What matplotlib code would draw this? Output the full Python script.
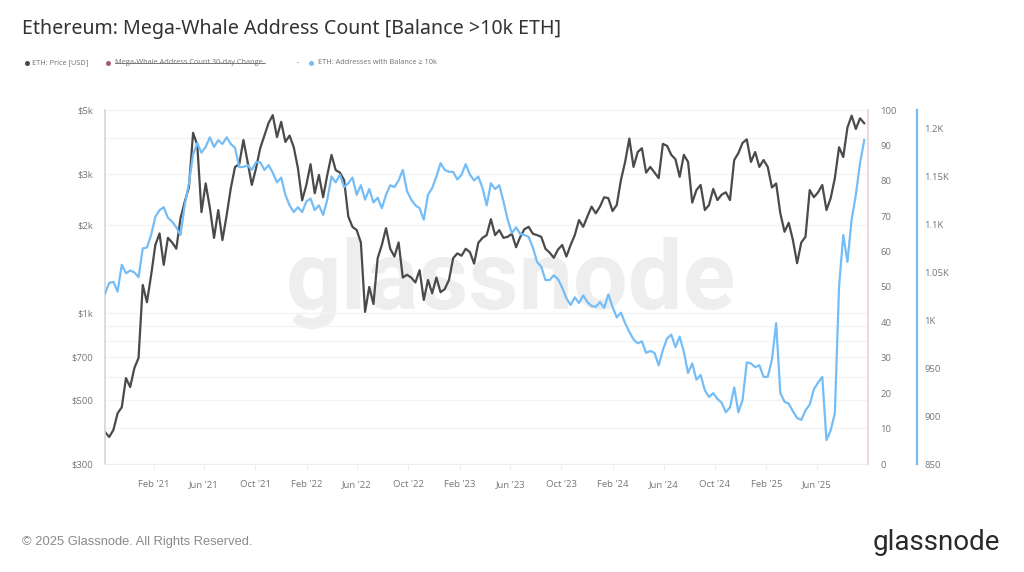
import matplotlib
matplotlib.use("Agg")
import matplotlib.pyplot as plt
import matplotlib.dates as mdates
from matplotlib.lines import Line2D
import pandas as pd

plt.rcParams['font.family'] = ['Open Sans', 'DejaVu Sans']

# values, one every 10 days
first_day = '2020-10-08'
price = [387, 372, 393, 449, 471, 594, 553, 643, 697, 1245,
         1085, 1347, 1710, 1875, 1460, 1810, 1745, 1660, 2115, 2410,
         2700, 4170, 3785, 2220, 2790, 2295, 1810, 2257, 1778, 2165,
         2690, 3180, 3250, 3940, 3310, 2755, 3145, 3690, 4080, 4510,
         4800, 4030, 4550, 3880, 4080, 3720, 3145, 2440, 2755, 3250,
         2580, 2985, 2500, 2985, 3500, 3100, 3040, 2865, 2145, 1975,
         1925, 1745, 1005, 1225, 1070, 1540, 1710, 1955, 1660, 1560,
         1745, 1320, 1350, 1320, 1270, 1400, 1105, 1295, 1165, 1320,
         1175, 1205, 1295, 1540, 1600, 1570, 1660, 1615, 1475, 1740,
         1810, 1850, 2100, 1850, 1925, 1810, 1825, 1870, 1680, 1825,
         1940, 1975, 1870, 1850, 1825, 1660, 1610, 1545, 1650, 1710,
         1560, 1710, 1850, 2085, 1975, 2145, 2320, 2200, 2320, 2500,
         2480, 2240, 2350, 2865, 3310, 3985, 3180, 3580, 3690, 3040,
         3180, 3040, 2910, 3820, 3760, 3500, 3380, 2940, 3500, 3310,
         2395, 2646, 2755, 2257, 2350, 2670, 2444, 2550, 2600, 2444,
         3360, 3550, 3850, 3960, 3310, 3580, 3180, 3360, 3180, 2700,
         2790, 2200, 1900, 2040, 1778, 1480, 1745, 1825, 2646, 2500,
         2600, 2755, 2257, 2480, 2910, 3720, 3440, 4350, 4780, 4300,
         4680, 4500]
addresses = [1028, 1039, 1040, 1030, 1058, 1049, 1052, 1050, 1045, 1075,
             1076, 1089, 1108, 1115, 1118, 1107, 1103, 1097, 1089, 1120,
             1143, 1173, 1185, 1175, 1181, 1191, 1181, 1188, 1184, 1191,
             1184, 1180, 1160, 1160, 1162, 1157, 1165, 1165, 1157, 1162,
             1154, 1144, 1149, 1131, 1120, 1113, 1118, 1113, 1124, 1127,
             1115, 1120, 1110, 1126, 1150, 1144, 1152, 1139, 1143, 1149,
             1131, 1141, 1126, 1137, 1123, 1128, 1117, 1131, 1141, 1139,
             1146, 1157, 1135, 1126, 1120, 1117, 1105, 1131, 1138, 1150,
             1164, 1157, 1155, 1155, 1147, 1152, 1163, 1152, 1146, 1150,
             1138, 1120, 1143, 1137, 1141, 1124, 1105, 1091, 1097, 1090,
             1089, 1087, 1076, 1061, 1056, 1042, 1042, 1047, 1043, 1034,
             1023, 1016, 1024, 1018, 1026, 1019, 1015, 1014, 1019, 1013,
             1027, 1014, 1003, 1008, 997, 988, 980, 976, 978, 966,
             968, 966, 953, 969, 981, 985, 972, 983, 967, 945,
             955, 938, 943, 927, 920, 924, 918, 914, 904, 909,
             930, 904, 917, 956, 955, 951, 953, 941, 941, 959,
             997, 924, 915, 913, 905, 898, 896, 906, 912, 928,
             935, 941, 875, 885, 903, 1035, 1089, 1061, 1105, 1131,
             1164, 1188]

date_ticks = ['2021-02-01', '2021-06-01', '2021-10-01', '2022-02-01', '2022-06-01',
              '2022-10-01', '2023-02-01', '2023-06-01', '2023-10-01', '2024-02-01',
              '2024-06-01', '2024-10-01', '2025-02-01', '2025-06-01']
price_ticks = [300, 500, 700, 1000, 2000, 3000, 5000]
price_labels = ['$300', '$500', '$700', '$1k', '$2k', '$3k', '$5k']
price_grid = [400, 600, 800, 900, 4000]
pct_ticks = [0, 10, 20, 30, 40, 50, 60, 70, 80, 90, 100]
addr_ticks = [850, 900, 950, 1000, 1050, 1100, 1150, 1200]
addr_labels = ['850', '900', '950', '1K', '1.05K', '1.1K', '1.15K', '1.2K']

DARK = '#4a4a4a'
BLUE = '#74bdf7'
TICK = '#777777'
GRID = '#f4f4f4'

dates = pd.date_range(first_day, periods=len(price), freq='10D')


def fx(x):
    return x / 1024


def fy(y):
    return 1 - y / 572


fig = plt.figure(figsize=(10.24, 5.72), dpi=100)
ax = fig.add_axes([fx(105), fy(464), fx(763), 354 / 572])

# price axis, log scale on the left
ax.set_yscale('log')
ax.set_ylim(300, 5000)
ax.set_xlim(pd.Timestamp('2020-10-08'), pd.Timestamp('2025-10-01'))
ax.set_yticks(price_ticks)
ax.set_yticklabels(price_labels)
ax.set_yticks(price_grid, minor=True)
ax.set_yticklabels([], minor=True)
ax.grid(True, axis='y', which='both', color=GRID, lw=1)
ax.set_axisbelow(True)
ax.set_xticks(pd.to_datetime(date_ticks))
ax.xaxis.set_major_formatter(mdates.DateFormatter("%b '%y"))
ax.tick_params(axis='y', which='both', length=0, pad=8.5, labelsize=6.8, labelcolor=TICK)
ax.tick_params(axis='x', length=4, color='#eeeeee', pad=7.5, labelsize=6.8, labelcolor=TICK)
for s in ['top', 'right']:
    ax.spines[s].set_visible(False)
ax.spines['left'].set_color('#d5d5d5')
ax.spines['left'].set_linewidth(1.2)
ax.spines['bottom'].set_color('#eeeeee')

ax.text(0.532, 0.51, 'glassnode', transform=ax.transAxes, ha='center', va='center',
        fontsize=70, color='#eeeeee', family='Roboto', weight='bold', zorder=0)
ax.plot(dates, price, color=DARK, lw=1.6, solid_joinstyle='round')

# percent axis, its series is switched off in the legend
ax_pct = ax.twinx()
ax_pct.set_ylim(0, 100)
ax_pct.set_yticks(pct_ticks)
ax_pct.tick_params(axis='y', length=0, pad=9, labelsize=6.8, labelcolor=TICK)
for s in ['top', 'left', 'bottom']:
    ax_pct.spines[s].set_visible(False)
ax_pct.spines['right'].set_color('#f0d8e0')
ax_pct.spines['right'].set_linewidth(1.5)

# address count axis
ax_addr = ax.twinx()
ax_addr.set_ylim(850, 1219.5)
ax_addr.set_yticks(addr_ticks)
ax_addr.set_yticklabels(addr_labels)
ax_addr.tick_params(axis='y', length=0, pad=5, labelsize=6.8, labelcolor=TICK)
for s in ['top', 'left', 'bottom']:
    ax_addr.spines[s].set_visible(False)
ax_addr.spines['right'].set_position(('outward', 35.5))
ax_addr.spines['right'].set_color(BLUE)
ax_addr.spines['right'].set_linewidth(1.6)
ax_addr.plot(dates, addresses, color=BLUE, lw=1.6, solid_joinstyle='round')

# title and legend row
fig.text(fx(22), fy(29), 'Ethereum: Mega-Whale Address Count [Balance >10k ETH]',
         fontsize=14.15, color='#333333', family='Noto Sans', va='center')

legend_dots = [(27, DARK), (108, '#a8587c'), (311, BLUE)]
legend_texts = [(32, 'ETH: Price [USD]'), (115, 'Mega-Whale Address Count 30-day Change'),
                (297, '-'), (318, 'ETH: Addresses with Balance ≥ 10k')]
for x, c in legend_dots:
    fig.add_artist(Line2D([fx(x)], [fy(62.5)], marker='o', ms=3.6, color=c, mew=0))
for x, t in legend_texts:
    fig.text(fx(x), fy(62.5), t, fontsize=5.35, color='#707070', va='center')
fig.add_artist(Line2D([fx(115), fx(265)], [fy(62.5), fy(62.5)], color='#666666', lw=0.6))

# footer
fig.text(fx(22), fy(542), '© 2025 Glassnode. All Rights Reserved.', fontsize=9.3,
         color='#8a8a8a', family='Liberation Sans', va='center')
fig.text(fx(1000), fy(543), 'glassnode', fontsize=20, color='#2a2a2a', family='Roboto',
         ha='right', va='center')

fig.savefig('out.png', dpi=100, facecolor='white')
